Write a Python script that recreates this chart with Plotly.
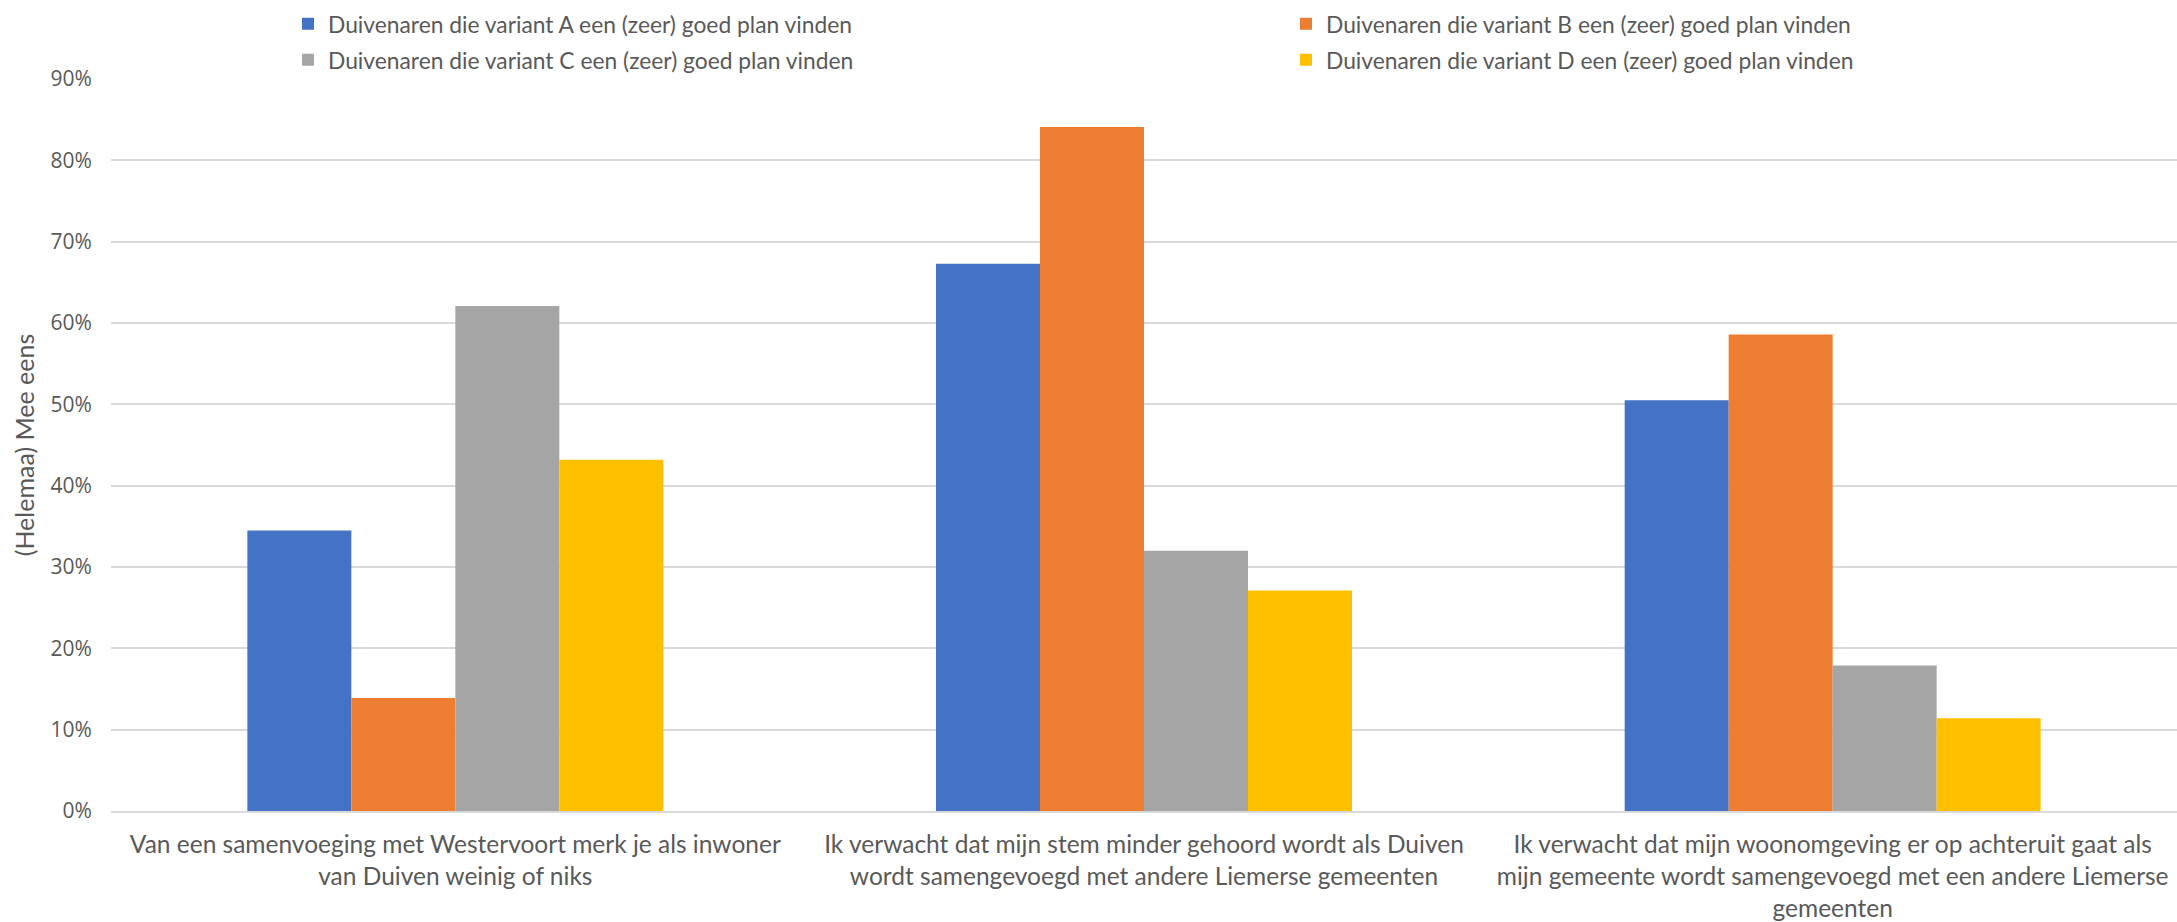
import plotly.graph_objects as go

categories = [
    "Van een samenvoeging met Westervoort merk je als inwoner<br>van Duiven weinig of niks",
    "Ik verwacht dat mijn stem minder gehoord wordt als Duiven<br>wordt samengevoegd met andere Liemerse gemeenten",
    "Ik verwacht dat mijn woonomgeving er op achteruit gaat als<br>mijn gemeente wordt samengevoegd met een andere Liemerse<br>gemeenten",
]
series_names = [
    "Duivenaren die variant A een (zeer) goed plan vinden",
    "Duivenaren die variant B een (zeer) goed plan vinden",
    "Duivenaren die variant C een (zeer) goed plan vinden",
    "Duivenaren die variant D een (zeer) goed plan vinden",
]
variant_a = [0.345, 0.673, 0.505]
variant_b = [0.139, 0.841, 0.586]
variant_c = [0.621, 0.320, 0.179]
variant_d = [0.432, 0.271, 0.114]
colors = ["#4472C4", "#ED7D31", "#A5A5A5", "#FFC000"]
y_ticks = [0, 0.1, 0.2, 0.3, 0.4, 0.5, 0.6, 0.7, 0.8, 0.9]
y_title = "(Helemaa) Mee eens"

W, H = 2177, 922
ml, mr, mt, mb = 111, 0, 79, 111
pw = W - ml - mr
ph = H - mt - mb

fig = go.Figure()
values = [variant_a, variant_b, variant_c, variant_d]
legend_ids = ["legend", "legend2", "legend3", "legend4"]
for name, vals, col, lg in zip(series_names, values, colors, legend_ids):
    fig.add_trace(go.Bar(x=categories, y=vals, name=name, marker_color=col,
                         marker_line_width=0, legend=lg, showlegend=True))

leg_font = dict(family="Lato, Open Sans, sans-serif", size=22.8, color="#595959")
col_px = [288, 1286]
row_px = [24, 60]
positions = [(col_px[0], row_px[0]), (col_px[1], row_px[0]), (col_px[0], row_px[1]), (col_px[1], row_px[1])]
leg_layout = {}
for lg, (px, py) in zip(legend_ids, positions):
    leg_layout[lg] = dict(orientation="h", x=(px - ml) / pw, xanchor="left",
                          y=1 + (mt - py) / ph, yanchor="middle", visible=True,
                          font=leg_font, bgcolor="rgba(0,0,0,0)")

fig.update_layout(
    width=W, height=H,
    showlegend=True,
    margin=dict(l=ml, r=mr, t=mt, b=mb, autoexpand=False),
    paper_bgcolor="white", plot_bgcolor="white",
    barmode="group", bargap=0.396, bargroupgap=0,
    font=dict(family="Lato, Open Sans, sans-serif", color="#595959"),
    xaxis=dict(showgrid=False, showline=True, linecolor="#d9d9d9", linewidth=2,
               tickfont=dict(family="Lato, Open Sans, sans-serif", size=24.5, color="#595959"),
               ticks="", ticklen=0, automargin=False, ticklabelstandoff=11),
    yaxis=dict(range=[0, 0.9], tickvals=y_ticks, tickformat=".0%",
               showgrid=True, gridcolor="#d9d9d9", gridwidth=2, zeroline=False,
               tickfont=dict(family="Open Sans, sans-serif", size=21, color="#595959"),
               ticks="outside", ticklen=14, tickcolor="rgba(0,0,0,0)", automargin=False,
               title=dict(text=y_title, font=dict(family="Lato, Open Sans, sans-serif", size=25, color="#595959"),
                          standoff=8)),
    **leg_layout,
)

fig.write_html("out.html", config={"displayModeBar": False},
               post_script="document.body.style.margin='0';")
